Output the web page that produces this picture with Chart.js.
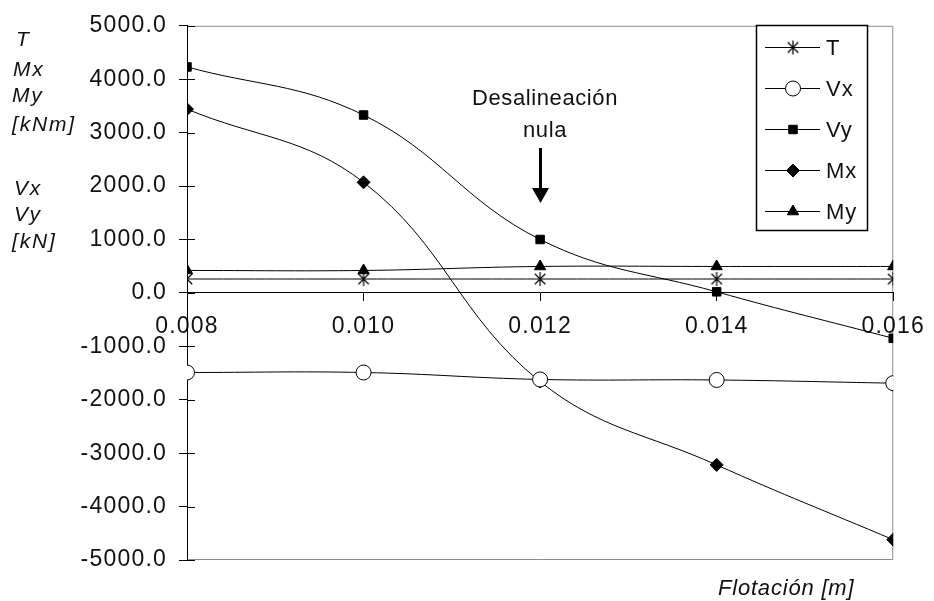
<!DOCTYPE html>
<html>
<head>
<meta charset="utf-8">
<script src="https://cdn.jsdelivr.net/npm/chart.js@4.4.0/dist/chart.umd.min.js"></script>
<style>
    html, body { margin: 0; padding: 0; background: #fff; }
    #wrap { width: 934px; height: 601px; }
</style>
</head>
<body>
<div id="wrap"><canvas id="chart" width="934" height="601"></canvas></div>
<script>
// values
const flotacion = [0.008, 0.010, 0.012, 0.014, 0.016];
const tValues  = [260, 260, 260, 260, 260];
const vxValues = [-1490, -1490, -1620, -1630, -1690];
const vyValues = [4230, 3330, 1000, 20, -850];
const mxValues = [3440, 2070, -1660, -3220, -4620];
const myValues = [420, 420, 495, 495, 495];
const seriesNames = ["T", "Vx", "Vy", "Mx", "My"];
const leftLabels = ["T", "Mx", "My", "[kNm]", "Vx", "Vy", "[kN]"];
const yMin = -5000, yMax = 5000, yStep = 1000;

const FONT = "'Liberation Sans', Arial, sans-serif";
const INK = "#111";

// asterisk marker, like the old spreadsheet "star"
function makeAsterisk(size) {
    const c = document.createElement("canvas");
    c.width = size; c.height = size;
    const g = c.getContext("2d");
    const m = size / 2, r = size / 2 - 1, d = r * 0.75;
    g.strokeStyle = "#000";
    g.lineWidth = 1.2;
    g.beginPath();
    g.moveTo(m, m - r); g.lineTo(m, m + r);
    g.moveTo(m - d, m - d); g.lineTo(m + d, m + d);
    g.moveTo(m - d, m + d); g.lineTo(m + d, m - d);
    g.stroke();
    return c;
}

function pts(values) {
    return flotacion.map((x, i) => ({ x: x, y: values[i] }));
}

function series(i, values, style, radius, fill) {
    return {
        label: seriesNames[i],
        data: pts(values),
        borderColor: "#000",
        borderWidth: 1,
        pointStyle: style,
        pointRadius: radius,
        pointBackgroundColor: fill,
        pointBorderColor: "#000",
        pointBorderWidth: 1,
        tension: 0.4
    };
}

const asterisk = makeAsterisk(16);

// frame, inner tick halves, legend and the loose texts
const decorations = {
    id: "decorations",
    beforeDraw(chart) {
        const { ctx, chartArea: a } = chart;
        ctx.letterSpacing = "1.2px";
        ctx.save();
        ctx.strokeStyle = "#8c8c8c";
        ctx.lineWidth = 1;
        ctx.beginPath();
        ctx.moveTo(a.left, a.top + 0.5);
        ctx.lineTo(a.right - 0.5, a.top + 0.5);
        ctx.lineTo(a.right - 0.5, a.bottom - 0.5);
        ctx.lineTo(a.left, a.bottom - 0.5);
        ctx.stroke();
        ctx.restore();
    },
    beforeDatasetsDraw(chart) {
        const { ctx, chartArea: a, scales } = chart;
        ctx.save();
        ctx.strokeStyle = "#000";
        ctx.lineWidth = 1;
        ctx.beginPath();
        scales.y.ticks.forEach(t => {
            const y = Math.round(scales.y.getPixelForValue(t.value)) + 0.5;
            ctx.moveTo(a.left, y);
            ctx.lineTo(a.left + 8, y);
        });
        ctx.stroke();
        ctx.restore();
    },
    afterDraw(chart) {
        const { ctx, scales } = chart;
        ctx.save();
        ctx.fillStyle = INK;

        // left axis labels
        ctx.font = "italic 21px " + FONT;
        ctx.letterSpacing = "1.8px";
        ctx.textAlign = "left";
        ctx.textBaseline = "alphabetic";
        const lx = [16, 13, 12, 12, 14, 14, 12];
        const ly = [46, 76, 102, 131, 195, 221, 248];
        leftLabels.forEach((s, i) => ctx.fillText(s, lx[i], ly[i]));

        // x axis title
        ctx.font = "italic 22px " + FONT;
        ctx.letterSpacing = "0.8px";
        ctx.fillText("Flotación [m]", 718, 595);

        // annotation with arrow
        const ax = Math.round(scales.x.getPixelForValue(0.012));
        ctx.font = "22px " + FONT;
        ctx.letterSpacing = "0.6px";
        ctx.textAlign = "center";
        ctx.fillText("Desalineación", ax + 5, 105);
        ctx.fillText("nula", ax + 5, 137);
        ctx.fillStyle = "#000";
        ctx.fillRect(ax - 1, 148, 3, 42);
        ctx.beginPath();
        ctx.moveTo(ax - 8, 188);
        ctx.lineTo(ax + 9, 188);
        ctx.lineTo(ax + 0.5, 203);
        ctx.closePath();
        ctx.fill();

        // legend
        ctx.fillStyle = "#fff";
        ctx.fillRect(756, 25, 111, 205);
        ctx.strokeStyle = "#000";
        ctx.lineWidth = 1.5;
        ctx.strokeRect(756.5, 25.5, 111, 205);
        ctx.font = "22px " + FONT;
        ctx.letterSpacing = "1px";
        ctx.textAlign = "left";
        ctx.textBaseline = "middle";
        chart.data.datasets.forEach((ds, i) => {
            const y = Math.round(47 + i * 41) + 0.5;
            ctx.strokeStyle = "#000";
            ctx.lineWidth = 1;
            ctx.beginPath();
            ctx.moveTo(765, y);
            ctx.lineTo(820, y);
            ctx.stroke();
            ctx.fillStyle = ds.pointBackgroundColor;
            ctx.strokeStyle = ds.pointBorderColor;
            Chart.helpers.drawPoint(ctx, {
                pointStyle: ds.pointStyle,
                radius: ds.pointRadius,
                borderWidth: 1,
                rotation: 0
            }, 793, y);
            ctx.fillStyle = INK;
            ctx.fillText(ds.label, 826, y + 1);
        });
        ctx.restore();
    }
};

new Chart(document.getElementById("chart"), {
    type: "line",
    data: {
        datasets: [
            series(0, tValues, asterisk, 8, "#000"),
            series(1, vxValues, "circle", 7.5, "#fff"),
            series(2, vyValues, "rect", 6, "#000"),
            series(3, mxValues, "rectRot", 6.5, "#000"),
            series(4, myValues, "triangle", 6.5, "#000")
        ]
    },
    options: {
        responsive: false,
        animation: false,
        events: [],
        layout: { padding: { left: 0, top: 22, right: 33, bottom: 41 } },
        plugins: {
            legend: { display: false },
            tooltip: { enabled: false }
        },
        scales: {
            x: {
                type: "linear",
                position: { y: 0 },
                min: flotacion[0],
                max: flotacion[flotacion.length - 1],
                afterBuildTicks: s => { s.ticks = flotacion.map(v => ({ value: v })); },
                grid: { display: true, drawOnChartArea: false, tickLength: 8, color: "#000", lineWidth: 1 },
                border: { display: true, color: "#000", width: 1 },
                ticks: {
                    padding: 12,
                    maxRotation: 0,
                    color: INK,
                    font: { family: FONT, size: 23 },
                    callback: v => Number(v).toFixed(3)
                }
            },
            y: {
                type: "linear",
                position: "left",
                min: yMin,
                max: yMax,
                afterFit: s => { s.width = 187; },
                grid: { display: true, drawOnChartArea: false, tickLength: 8, color: "#000", lineWidth: 1 },
                border: { display: true, color: "#000", width: 1 },
                ticks: {
                    stepSize: yStep,
                    padding: 12,
                    color: INK,
                    font: { family: FONT, size: 23 },
                    callback: v => Number(v).toFixed(1)
                }
            }
        }
    },
    plugins: [decorations]
});
</script>
</body>
</html>
